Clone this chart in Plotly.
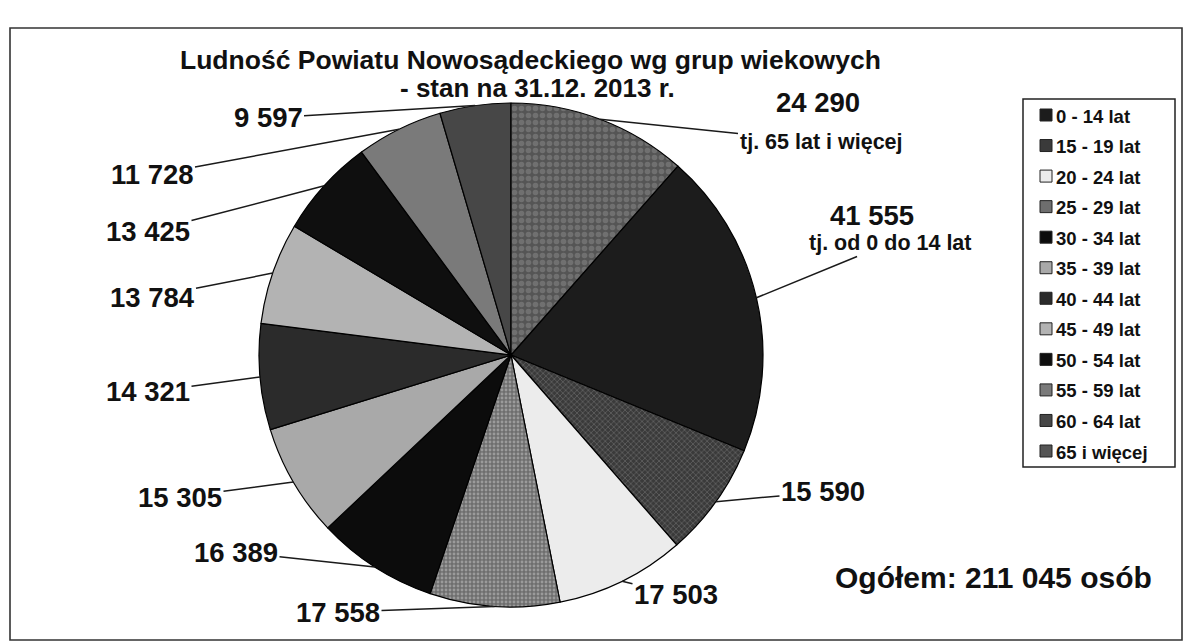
import math
import plotly.graph_objects as go

# ---------------- data ----------------
age_groups = ["0 - 14 lat", "15 - 19 lat", "20 - 24 lat", "25 - 29 lat", "30 - 34 lat",
              "35 - 39 lat", "40 - 44 lat", "45 - 49 lat", "50 - 54 lat", "55 - 59 lat",
              "60 - 64 lat", "65 i więcej"]
population = [41555, 15590, 17503, 17558, 16389, 15305, 14321, 13784, 13425, 11728, 9597, 24290]
value_labels = ["41 555", "15 590", "17 503", "17 558", "16 389", "15 305", "14 321",
                "13 784", "13 425", "11 728", "9 597", "24 290"]
sub_labels = {0: "tj. od 0 do 14 lat", 11: "tj. 65 lat i więcej"}
title_lines = ["Ludność Powiatu Nowosądeckiego wg grup wiekowych", "- stan na 31.12. 2013 r."]
total_text = "Ogółem: 211 045 osób"

# ---------------- style ----------------
W, H = 1187, 644
CX, CY, R = 511, 355, 252          # pie centre / radius in pixels
FONT = "Liberation Sans, Arial, sans-serif"
INK = "#111111"

colors = ["#1c1c1c", "#3a3a3a", "#ececec", "#6e6e6e", "#0c0c0c", "#a9a9a9",
          "#2b2b2b", "#b3b3b3", "#0f0f0f", "#7a7a7a", "#474747", "#555555"]
pat_shape = ["", "x", "", ".", "", "", "", "", "", "", "", "."]
pat_fg = ["#000", "#8a8a8a", "#000", "#c8c8c8", "#000", "#000", "#000", "#000",
          "#000", "#000", "#000", "#8c8c8c"]
pat_size = [6, 4, 6, 4, 6, 6, 6, 6, 6, 6, 6, 7]
pat_solid = [0.3, 0.35, 0.3, 0.4, 0.3, 0.3, 0.3, 0.3, 0.3, 0.3, 0.3, 0.5]

# label text centres in pixels (annotation placement)
label_px = [(890, 243), (823, 492), (676, 594), (338, 612), (236, 552), (180, 497),
            (148, 392), (152, 297), (148, 232), (152, 175), (268, 118), (821, 142)]
number_above_px = {0: (872, 215), 11: (818, 102)}
NUM_SIZE = 27.5
SUB_SIZE = 21.5

total = sum(population)
rotation = 360.0 * population[-1] / total  # 65+ slice sits from 12 o'clock clockwise

fig = go.Figure()
fig.add_trace(go.Pie(
    labels=age_groups, values=population, sort=False, direction="clockwise",
    rotation=rotation, textinfo="none", hoverinfo="label+value",
    showlegend=False,
    domain=dict(x=[(CX - R) / W, (CX + R) / W], y=[(H - CY - R) / H, (H - CY + R) / H]),
    marker=dict(colors=colors, line=dict(color="#000000", width=1.2),
                pattern=dict(shape=pat_shape, fgcolor=pat_fg, size=pat_size,
                             solidity=pat_solid, fillmode="overlay")),
))

def px_to_paper(x, y):
    return x / W, (H - y) / H

def text_ann(x, y, text, size, xanchor="center"):
    qx, qy = px_to_paper(x, y)
    return dict(x=qx, y=qy, xref="paper", yref="paper", text=text, showarrow=False,
                xanchor=xanchor, yanchor="middle",
                font=dict(family=FONT, size=size, color=INK))

annotations = []
cum = 0.0
for i, v in enumerate(population):
    mid = math.radians(rotation + 360.0 * (cum + v / 2.0) / total)
    cum += v
    ex, ey = CX + R * math.sin(mid), CY - R * math.cos(mid)
    lx, ly = label_px[i]
    px, py = px_to_paper(ex, ey)
    if i in sub_labels:
        txt, size = "<b>%s</b>" % sub_labels[i], SUB_SIZE
        nx, ny = number_above_px[i]
        annotations.append(text_ann(nx, ny, "<b>%s</b>" % value_labels[i], NUM_SIZE))
    else:
        txt, size = "<b>%s</b>" % value_labels[i], NUM_SIZE
    annotations.append(dict(x=px, y=py, xref="paper", yref="paper", text=txt,
                            showarrow=True, arrowhead=0, arrowwidth=1.5, arrowcolor="#1a1a1a",
                            ax=lx - ex, ay=ly - ey, standoff=0,
                            font=dict(family=FONT, size=size, color=INK)))

# title
annotations.append(text_ann(530, 60, "<b>%s</b>" % title_lines[0], 26.5))
annotations.append(text_ann(537, 88, "<b>%s</b>" % title_lines[1], 26))

# total
annotations.append(text_ann(994, 577, "<b>%s</b>" % total_text, 30))

# manual legend
shapes = []
LX0, LY0, LX1, LY1 = 1023, 99, 1175, 467
shapes.append(dict(type="rect", xref="paper", yref="paper",
                   x0=LX0 / W, x1=LX1 / W, y0=(H - LY1) / H, y1=(H - LY0) / H,
                   line=dict(color="#222", width=1.5), fillcolor="rgba(0,0,0,0)"))
step = (LY1 - LY0 - 32) / (len(age_groups) - 1)
for i, name in enumerate(age_groups):
    yc = LY0 + 16 + i * step
    shapes.append(dict(type="rect", xref="paper", yref="paper",
                       x0=1040 / W, x1=1052 / W, y0=(H - yc - 6) / H, y1=(H - yc + 6) / H,
                       line=dict(color="#222", width=1), fillcolor=colors[i]))
    annotations.append(text_ann(1054, yc + 1, "<b>%s</b>" % name, 18.5, xanchor="left"))

# outer frame
shapes.append(dict(type="rect", xref="paper", yref="paper",
                   x0=10 / W, x1=1182 / W, y0=(H - 640) / H, y1=(H - 28) / H,
                   line=dict(color="#333", width=1.6), fillcolor="rgba(0,0,0,0)", layer="below"))

fig.update_layout(width=W, height=H, margin=dict(l=0, r=0, t=0, b=0),
                  paper_bgcolor="white", plot_bgcolor="white",
                  annotations=annotations, shapes=shapes, showlegend=False)

fig.write_html("out.html", config={"displayModeBar": False},
               post_script="document.body.style.margin='0';")
